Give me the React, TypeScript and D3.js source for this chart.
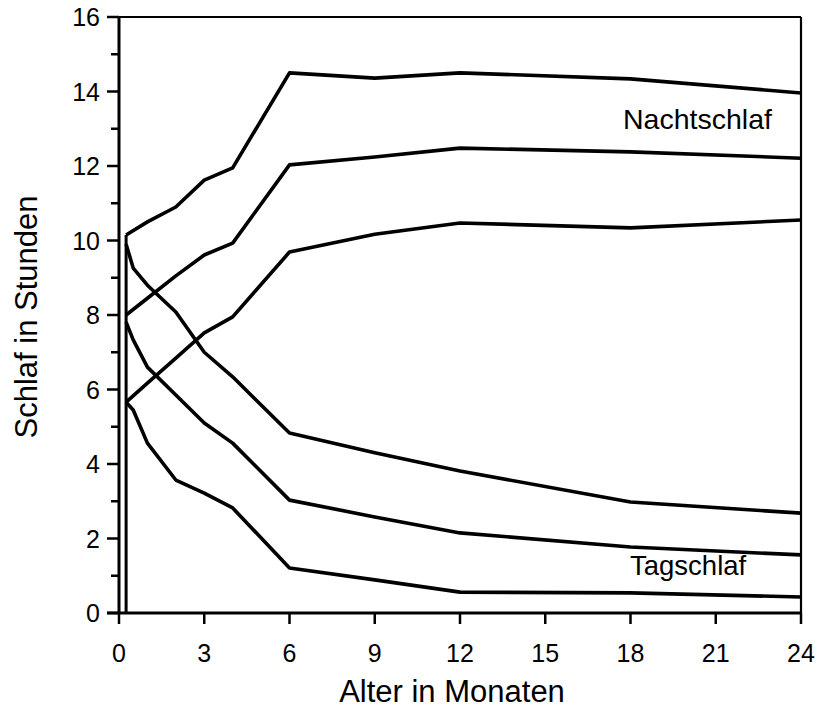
import React from "react";
import * as d3 from "d3";

const months = [0.25, 1, 2, 3, 4, 6, 9, 12, 18, 24];
const tagMonths = [0.25, 0.5, 1, 2, 3, 4, 6, 9, 12, 18, 24];

const nachtUpper = [10.15, 10.5, 10.9, 11.62, 11.95, 14.5, 14.36, 14.5, 14.34, 13.96];
const nachtMiddle = [8.0, 8.45, 9.05, 9.61, 9.93, 12.03, 12.24, 12.48, 12.38, 12.21];
const nachtLower = [5.66, 6.17, 6.84, 7.52, 7.95, 9.69, 10.17, 10.47, 10.34, 10.55];

const tagUpper = [9.9, 9.26, 8.8, 8.08, 7.0, 6.34, 4.83, 4.3, 3.81, 2.98, 2.68];
const tagMiddle = [7.81, 7.33, 6.6, 5.85, 5.1, 4.56, 3.03, 2.58, 2.15, 1.77, 1.56];
const tagLower = [5.66, 5.45, 4.56, 3.57, 3.22, 2.82, 1.21, 0.89, 0.56, 0.54, 0.43];

const startLine = { month: 0.25, from: 0, to: 10.15 };

const xTicks = [0, 3, 6, 9, 12, 15, 18, 21, 24];
const yMajor = [0, 2, 4, 6, 8, 10, 12, 14, 16];
const yMinor = [1, 3, 5, 7, 9, 11, 13, 15];

const xTitle = "Alter in Monaten";
const yTitle = "Schlaf in Stunden";
const nachtLabel = "Nachtschlaf";
const tagLabel = "Tagschlaf";

const FONT = "'Liberation Sans', Arial, Helvetica, sans-serif";

export default function App() {
  const x = d3.scaleLinear().domain([0, 24]).range([119, 801]);
  const y = d3.scaleLinear().domain([0, 16]).range([613, 17]);

  const line = d3
    .line<[number, number]>()
    .x((d) => x(d[0]))
    .y((d) => y(d[1]))
    .curve(d3.curveLinear);

  const series: [number[], number[]][] = [
    [months, nachtUpper],
    [months, nachtMiddle],
    [months, nachtLower],
    [tagMonths, tagUpper],
    [tagMonths, tagMiddle],
    [tagMonths, tagLower],
  ];

  return (
    <svg
      width={824}
      height={708}
      style={{ position: "absolute", left: 0, top: 0, background: "#fff" }}
    >
      <rect x={0} y={0} width={824} height={708} fill="#fff" />
      {/* frame */}
      <line x1={108} x2={x(24)} y1={y(16)} y2={y(16)} stroke="#000" strokeWidth={2} />
      <line x1={x(24)} x2={x(24)} y1={y(16)} y2={y(0)} stroke="#000" strokeWidth={2.2} />
      {/* left axis */}
      <line x1={x(0)} x2={x(0)} y1={y(16) - 1} y2={y(0) + 1} stroke="#000" strokeWidth={3} />
      {/* bottom axis */}
      <line x1={107} x2={x(24) + 1} y1={y(0)} y2={y(0)} stroke="#000" strokeWidth={3} />
      {yMajor.map((v) => (
        <g key={"ym" + v}>
          <line x1={107} x2={x(0)} y1={y(v)} y2={y(v)} stroke="#000" strokeWidth={2.5} />
          <text
            x={100}
            y={y(v)}
            dy="0.36em"
            textAnchor="end"
            fontFamily={FONT}
            fontSize={25}
            fill="#000"
          >
            {v}
          </text>
        </g>
      ))}
      {yMinor.map((v) => (
        <line key={"yn" + v} x1={111} x2={x(0)} y1={y(v)} y2={y(v)} stroke="#000" strokeWidth={2.5} />
      ))}
      {xTicks.map((m) => (
        <g key={"xt" + m}>
          <line x1={x(m)} x2={x(m)} y1={y(0)} y2={y(0) + 11} stroke="#000" strokeWidth={2.5} />
          <text
            x={x(m)}
            y={662}
            textAnchor="middle"
            fontFamily={FONT}
            fontSize={25}
            fill="#000"
          >
            {m}
          </text>
        </g>
      ))}
      {/* start vertical */}
      <line
        x1={x(startLine.month)}
        x2={x(startLine.month)}
        y1={y(startLine.from)}
        y2={y(startLine.to)}
        stroke="#000"
        strokeWidth={3}
      />
      {series.map(([ms, vals], i) => (
        <path
          key={"s" + i}
          d={line(ms.map((m, j) => [m, vals[j]] as [number, number])) || ""}
          fill="none"
          stroke="#000"
          strokeWidth={3.6}
          strokeLinejoin="round"
        />
      ))}
      <text x={623} y={129} fontFamily={FONT} fontSize={28.5} fill="#000">
        {nachtLabel}
      </text>
      <text x={630} y={575} fontFamily={FONT} fontSize={27.5} fill="#000">
        {tagLabel}
      </text>
      <text x={452} y={702} textAnchor="middle" fontFamily={FONT} fontSize={31} fill="#000">
        {xTitle}
      </text>
      <text
        transform="translate(37,317) rotate(-90)"
        textAnchor="middle"
        fontFamily={FONT}
        fontSize={31}
        fill="#000"
      >
        {yTitle}
      </text>
    </svg>
  );
}
